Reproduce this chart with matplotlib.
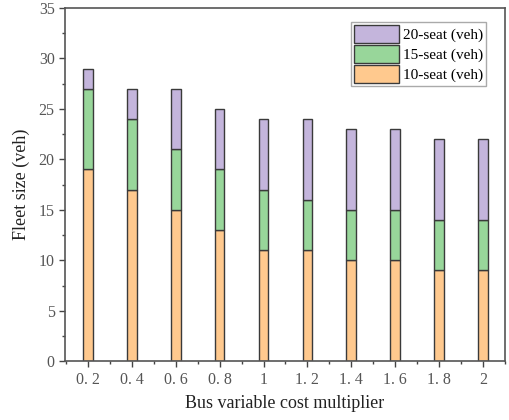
import matplotlib.pyplot as plt
from matplotlib.ticker import MultipleLocator, FixedLocator
import numpy as np

plt.rcParams['font.family'] = ['Liberation Serif', 'DejaVu Serif']

multipliers = ["0. 2", "0. 4", "0. 6", "0. 8", "1", "1. 2", "1. 4", "1. 6", "1. 8", "2"]
seat10 = [19, 17, 15, 13, 11, 11, 10, 10, 9, 9]
seat15 = [8, 7, 6, 6, 6, 5, 5, 5, 5, 5]
seat20 = [2, 3, 6, 6, 7, 8, 8, 8, 8, 8]

c10 = "#FFC98E"
c15 = "#98D69A"
c20 = "#C4B5DC"
edge = "#3a3a3a"

fig = plt.figure(figsize=(5.09, 4.20), dpi=100)
ax = fig.add_axes([0.128, 0.140, 0.864, 0.841])

x = np.arange(len(multipliers))
w = 0.22
b1 = ax.bar(x, seat10, w, color=c10, edgecolor=edge, linewidth=1.0, label="10-seat (veh)")
b2 = ax.bar(x, seat15, w, bottom=seat10, color=c15, edgecolor=edge, linewidth=1.0, label="15-seat (veh)")
bottom3 = np.array(seat10) + np.array(seat15)
b3 = ax.bar(x, seat20, w, bottom=bottom3, color=c20, edgecolor=edge, linewidth=1.0, label="20-seat (veh)")

ax.set_xlim(-0.52, 9.5)
ax.set_ylim(0, 35)
ax.set_xticks(x)
ax.set_xticklabels(multipliers)
ax.xaxis.set_minor_locator(FixedLocator(np.arange(-0.5, 9.6, 1)))
ax.yaxis.set_major_locator(MultipleLocator(5))
ax.yaxis.set_minor_locator(MultipleLocator(2.5))
ax.tick_params(which='both', direction='out', colors='#444444', labelcolor='#555555', labelsize=11.5)
ax.tick_params(which='major', length=4, width=1.0)
ax.tick_params(which='minor', length=2.5, width=1.0)
for s in ax.spines.values():
    s.set_color('#555555')
    s.set_linewidth(1.2)

ax.set_xlabel("Bus variable cost multiplier", fontsize=13, color='#222222', labelpad=5)
ax.set_ylabel("Fleet size (veh)", fontsize=13, color='#222222', labelpad=6)

ax.legend([b3, b2, b1], ["20-seat (veh)", "15-seat (veh)", "10-seat (veh)"],
          loc='upper right', bbox_to_anchor=(0.958, 0.96), fontsize=11,
          frameon=True, fancybox=False, edgecolor='#aaaaaa', framealpha=1,
          handlelength=2.9, handleheight=1.45, handletextpad=0.3,
          labelspacing=0.12, borderpad=0.2, borderaxespad=0)

fig.savefig("out.png", dpi=100)
